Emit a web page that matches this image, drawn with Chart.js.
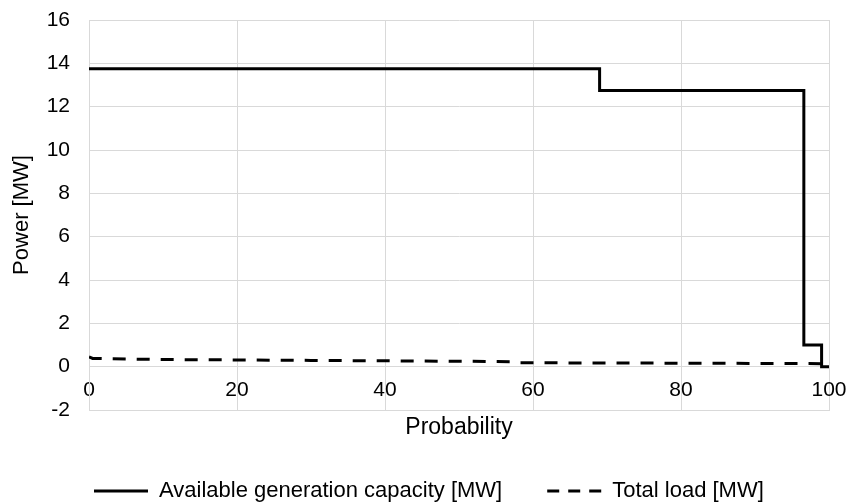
<!DOCTYPE html>
<html>
<head>
<meta charset="utf-8">
<script src="https://cdn.jsdelivr.net/npm/chart.js@4"></script>
<style>
  html, body { margin: 0; padding: 0; background: #ffffff; }
  #wrap { width: 851px; height: 504px; position: relative; }
</style>
</head>
<body>
<div id="wrap"><canvas id="c" width="851" height="504"></canvas></div>
<script>
// ---- data ----
const seriesNames = ['Available generation capacity [MW]', 'Total load [MW]'];
// step breakpoints (probability, %) and capacity level starting at each breakpoint
const capProb = [0, 69, 96.6, 99, 100];
const capValue = [13.75, 12.75, 1, 0, 0];
// load duration curve
const loadProb = [0, 0.5, 5, 10, 20, 30, 40, 50, 57, 57.5, 70, 80, 90, 99, 100];
const loadValue = [0.45, 0.38, 0.35, 0.33, 0.31, 0.29, 0.27, 0.25, 0.23, 0.18, 0.17, 0.16, 0.15, 0.14, 0.12];
const xTickMin = 0, xTickMax = 100, xTickStep = 20;
const yTickMin = -2, yTickMax = 16, yTickStep = 2;
const xTitle = 'Probability';
const yTitle = 'Power [MW]';

const toPts = (xs, ys) => xs.map((x, i) => ({x: x, y: ys[i]}));

const FONT = "'Liberation Sans', Arial, sans-serif";
const GRID = '#d9d9d9';
const LEGEND_SIZE = 22;
const TICK_SIZE = 21;

const legendPlace = {
  id: 'legendPlace',
  afterLayout(chart) {
    const lg = chart.legend;
    if (!lg) return;
    const pad = lg.options.labels.padding;
    lg.left = 94 - pad;
    lg.top = 491 - LEGEND_SIZE / 2 - pad;
  }
};

new Chart(document.getElementById('c'), {
  type: 'scatter',
  data: {
    datasets: [
      {
        label: seriesNames[0],
        data: toPts(capProb, capValue),
        showLine: true,
        stepped: true,
        borderColor: '#000000',
        backgroundColor: '#000000',
        borderWidth: 3,
        pointRadius: 0,
        pointHoverRadius: 0,
        pointStyle: 'line',
        fill: false
      },
      {
        label: seriesNames[1],
        data: toPts(loadProb, loadValue),
        showLine: true,
        borderColor: '#000000',
        backgroundColor: '#000000',
        borderWidth: 3,
        borderDash: [13, 11],
        pointRadius: 0,
        pointHoverRadius: 0,
        pointStyle: 'line',
        tension: 0,
        fill: false
      }
    ]
  },
  options: {
    responsive: false,
    animation: false,
    layout: { padding: { top: 20, right: 22, left: 0, bottom: 0 } },
    plugins: {
      tooltip: { enabled: false },
      legend: {
        position: 'bottom',
        align: 'start',
        fullSize: true,
        maxHeight: 30,
        labels: {
          usePointStyle: true,
          pointStyleWidth: 54,
          padding: 45,
          color: '#000000',
          font: { family: FONT, size: LEGEND_SIZE },
          generateLabels(chart) {
            return chart.data.datasets.map((ds, i) => ({
              text: ds.label,
              datasetIndex: i,
              fillStyle: ds.borderColor,
              strokeStyle: ds.borderColor,
              lineWidth: ds.borderWidth,
              lineDash: ds.borderDash ? [12, 9] : [],
              lineCap: 'butt',
              pointStyle: 'line',
              hidden: false,
              fontColor: '#000000'
            }));
          }
        }
      }
    },
    scales: {
      x: {
        type: 'linear',
        position: 'bottom',
        min: xTickMin,
        max: xTickMax,
        ticks: { stepSize: xTickStep, display: false },
        grid: { color: GRID, lineWidth: 1, drawTicks: false },
        border: { color: GRID, width: 1 },
        title: {
          display: true,
          text: xTitle,
          color: '#000000',
          font: { family: FONT, size: 23 },
          padding: { top: 0, bottom: 33 }
        },
        afterFit(scale) { scale.height = 64; }
      },
      xLabels: {
        type: 'linear',
        axis: 'x',
        position: { y: 0 },
        min: xTickMin,
        max: xTickMax,
        ticks: {
          stepSize: xTickStep,
          padding: 0,
          color: '#000000',
          font: { family: FONT, size: TICK_SIZE },
          maxRotation: 0
        },
        grid: { display: true, drawOnChartArea: false, drawTicks: true, tickLength: 11, tickColor: 'rgba(0,0,0,0)', color: 'rgba(0,0,0,0)' },
        border: { display: false }
      },
      y: {
        type: 'linear',
        min: yTickMin,
        max: yTickMax,
        ticks: {
          stepSize: yTickStep,
          padding: 0,
          color: '#000000',
          font: { family: FONT, size: TICK_SIZE }
        },
        grid: { color: GRID, lineWidth: 1, drawTicks: true, tickLength: 19, tickColor: 'rgba(0,0,0,0)' },
        border: { color: GRID, width: 1 },
        title: {
          display: true,
          text: yTitle,
          color: '#000000',
          font: { family: FONT, size: 22 },
          padding: { top: 9, bottom: 0 }
        },
        afterFit(scale) { scale.width = 89; }
      }
    }
  },
  plugins: [legendPlace]
});
</script>
</body>
</html>
